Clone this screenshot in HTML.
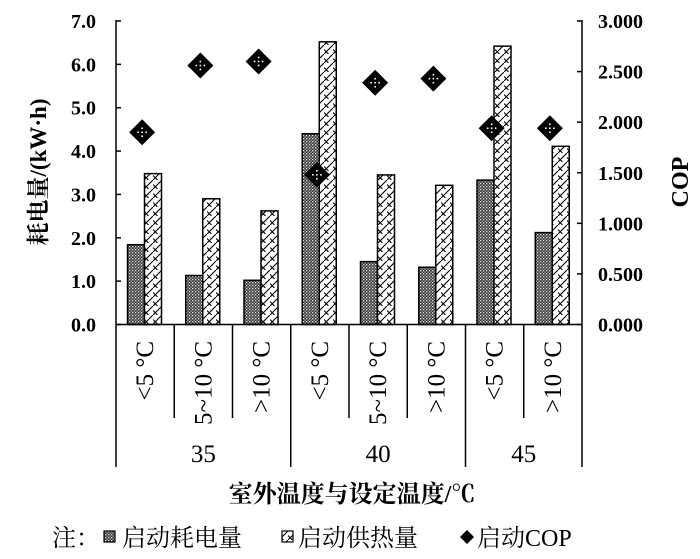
<!DOCTYPE html>
<html><head><meta charset="utf-8"><style>
html,body{margin:0;padding:0;background:#fff;}
svg text{font-family:"Liberation Serif","Noto Serif CJK SC",serif;fill:#000;}
</style></head><body>
<svg width="700" height="554" viewBox="0 0 700 554" xmlns="http://www.w3.org/2000/svg">
<defs>
<pattern id="dots" width="3" height="3" patternUnits="userSpaceOnUse">
<rect width="3" height="3" fill="#333"/><rect x="0" y="0" width="1.3" height="1.3" fill="#e8e8e8"/><rect x="1.5" y="1.5" width="1.3" height="1.3" fill="#bbb"/>
</pattern>
<pattern id="zig" width="9" height="9" patternUnits="userSpaceOnUse">
<rect width="9" height="9" fill="#fff"/><path d="M0 9 L9 0 M0 4.5 L4.5 9" stroke="#000" stroke-width="1.1" fill="none"/>
</pattern>
</defs>
<g id="plot"></g>
</svg>
<script>
const categories=["<5 °C","5~10 °C",">10 °C","<5 °C","5~10 °C",">10 °C","<5 °C",">10 °C"];
const groups=["35","40","45"];
const groupSizes=[3,3,2];
const powerValues=[1.84,1.13,1.02,4.40,1.45,1.32,3.33,2.12];
const heatValues=[3.48,2.90,2.62,6.52,3.45,3.21,6.42,4.11];
const copValues=[1.90,2.56,2.60,1.48,2.39,2.43,1.94,1.94];
const leftTicks=["0.0","1.0","2.0","3.0","4.0","5.0","6.0","7.0"];
const rightTicks=["0.000","0.500","1.000","1.500","2.000","2.500","3.000"];

const NS="http://www.w3.org/2000/svg";
const g=document.getElementById('plot');
const X0=116,X1=582,Y0=324.5,Y1=21;
const catW=(X1-X0)/categories.length;
const yL=v=>Y0-(Y0-Y1)*v/7;
const yR=v=>Y0-(Y0-Y1)*v/3;
const xc=i=>X0+catW*i;
function mk(tag,attrs,txt){const e=document.createElementNS(NS,tag);for(const k in attrs)e.setAttribute(k,attrs[k]);if(txt!==undefined)e.textContent=txt;g.appendChild(e);return e;}

categories.forEach((c,i)=>{
  const b1=mk('rect',{x:xc(i)+11.5,y:yL(powerValues[i]),width:17,height:Y0-yL(powerValues[i]),fill:'url(#dots)',stroke:'#000','stroke-width':1.5});
  
  
  const b2=mk('rect',{x:xc(i)+28.5,y:yL(heatValues[i]),width:17,height:Y0-yL(heatValues[i]),fill:'url(#zig)',stroke:'#000','stroke-width':1.5});
  
  
});
categories.forEach((c,i)=>{
  const cx=xc(i)+catW/2-3, cy=yR(copValues[i]);
  const d=mk('path',{d:`M${cx} ${cy-13} L${cx+13} ${cy} L${cx} ${cy+13} L${cx-13} ${cy} Z`,fill:'#000'});
  
  
  [[0,-4],[0,4],[-4,0],[4,0],[0,0]].forEach(p=>{const w=mk('rect',{x:cx+p[0]-0.8,y:cy+p[1]-0.8,width:1.6,height:1.6,fill:'#fff'});});
});
let a=mk('line',{x1:X0,y1:Y1-1,x2:X0,y2:467,stroke:'#000','stroke-width':1.5});

a=mk('line',{x1:X1,y1:Y1-1,x2:X1,y2:467,stroke:'#000','stroke-width':1.5});

a=mk('line',{x1:X0,y1:Y0,x2:X1,y2:Y0,stroke:'#000','stroke-width':1.5});

leftTicks.forEach((t,i)=>{
  const y=yL(i);
  const l=mk('line',{x1:X0,y1:y,x2:X0+5,y2:y,stroke:'#000','stroke-width':1.5});
  
  const tx=mk('text',{x:96,y:y+7,'text-anchor':'end','font-size':20,'font-weight':'bold'},t);
  
});
rightTicks.forEach((t,i)=>{
  const y=yR(i*0.5);
  const l=mk('line',{x1:X1-5,y1:y,x2:X1,y2:y,stroke:'#000','stroke-width':1.5});
  
  const tx=mk('text',{x:598,y:y+7,'font-size':20,'font-weight':'bold'},t);
  
});
let gi=0,acc=groupSizes[0];
for(let i=1;i<categories.length;i++){
  const isGroup=(i===acc);
  if(isGroup){gi++;acc+=groupSizes[gi];}
  const l=mk('line',{x1:xc(i),y1:Y0,x2:xc(i),y2:isGroup?467:418,stroke:'#000','stroke-width':1.5});
  
}
categories.forEach((c,i)=>{
  const x=xc(i)+catW/2+8, y=341;
  const t=mk('text',{x:x,y:y,'text-anchor':'end','font-size':25,transform:`rotate(-90 ${x} ${y})`},c);
  
});
let start=0;
groups.forEach((gname,k)=>{
  const cx=X0+catW*(start+groupSizes[k]/2);
  const t=mk('text',{x:cx,y:462,'text-anchor':'middle','font-size':25},gname);
  
  start+=groupSizes[k];
});
let t=mk('text',{x:352,y:502,'text-anchor':'middle','font-size':24,'font-weight':'bold'},'室外温度与设定温度/℃');

t=mk('text',{x:46,y:172,'text-anchor':'middle','font-size':23,'font-weight':'bold',transform:'rotate(-90 46 172)'},'耗电量/(kW·h)');

t=mk('text',{x:688,y:182,'text-anchor':'middle','font-size':24,'font-weight':'bold',transform:'rotate(-90 688 182)'},'COP');

t=mk('text',{x:52,y:546,'font-size':24},'注：');

let r=mk('rect',{x:104,y:531,width:11,height:11,fill:'url(#dots)',stroke:'#000','stroke-width':1.2});

t=mk('text',{x:122,y:546,'font-size':24},'启动耗电量');

r=mk('rect',{x:282,y:531,width:11,height:11,fill:'url(#zig)',stroke:'#000','stroke-width':1.2});

t=mk('text',{x:298,y:546,'font-size':24},'启动供热量');

r=mk('path',{d:'M467 530 L474 537 L467 544 L460 537 Z',fill:'#000'});

t=mk('text',{x:477,y:546,'font-size':24},'启动COP');

</script>
</body></html>
